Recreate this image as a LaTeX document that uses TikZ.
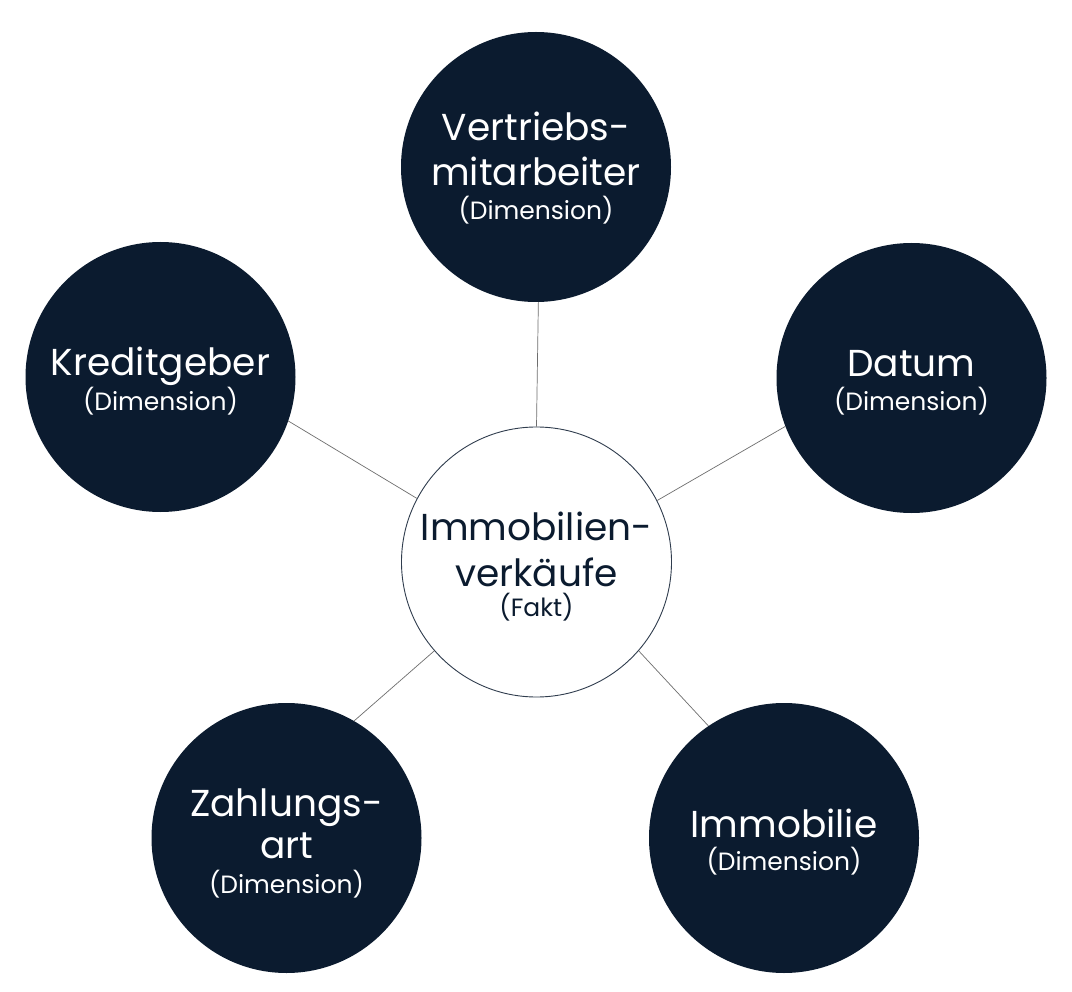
\documentclass[tikz,border=0pt]{standalone}
\usepackage{fontspec}
\setmainfont{Poppins}
\definecolor{navy}{HTML}{0B1B2F}
\definecolor{linegray}{HTML}{6E6E6E}
\begin{document}
\begin{tikzpicture}[x=1pt,y=-1pt,
  dim/.style={circle,fill=navy,draw=none,minimum size=270pt,inner sep=0pt},
  fakt/.style={circle,fill=white,draw=navy!85,line width=0.9pt,minimum size=270pt,inner sep=0pt},
  conn/.style={draw=linegray,line width=0.7pt},
  big/.style={anchor=base,text=white,font=\fontsize{37.5}{44}\selectfont},
  small/.style={anchor=base,text=white,font=\fontsize{25}{30}\selectfont},
  bigc/.style={anchor=base,text=navy,font=\fontsize{37.5}{44}\selectfont},
  smallc/.style={anchor=base,text=navy,font=\fontsize{25}{30}\selectfont}]
\useasboundingbox[fill=white] (0,0) rectangle (1072,992);
\node[fakt] (C) at (536.5,562) {};
\node[dim] (V) at (536,167) {};
\node[dim] (K) at (160.5,377) {};
\node[dim] (D) at (911.5,378) {};
\node[dim] (Z) at (286.5,838) {};
\node[dim] (I) at (784,838) {};
\draw[conn] (V.-89.5) -- (C.90.5);
\draw[conn] (K.-19.4) -- (C.152);
\draw[conn] (D.201.6) -- (C.27);
\draw[conn] (Z.60.4) -- (C.221);
\draw[conn] (I.124.7) -- (C.-41.9);
% texts
\node[bigc] (c1) at (536.5,540) {Immobilien-};
\node[bigc] (c2) at (536.5,586) {verkäufe};
\node[smallc] (c3) at (536.5,616) {(Fakt)};
\node[big] (v1) at (536,141) {Vertriebs-};
\node[big] (v2) at (536,186) {mitarbeiter};
\node[small] (v3) at (536,220) {(Dimension)};
\node[big] (k1) at (160.5,376) {Kreditgeber};
\node[small] (k2) at (160.5,411) {(Dimension)};
\node[big] (d1) at (911.5,377) {Datum};
\node[small] (d2) at (911.5,411) {(Dimension)};
\node[big] (z1) at (286.5,816) {Zahlungs-};
\node[big] (z2) at (286.5,858) {art};
\node[small] (z3) at (286.5,893) {(Dimension)};
\node[big] (i1) at (784,837) {Immobilie};
\node[small] (i2) at (784,870) {(Dimension)};
\end{tikzpicture}
\end{document}
